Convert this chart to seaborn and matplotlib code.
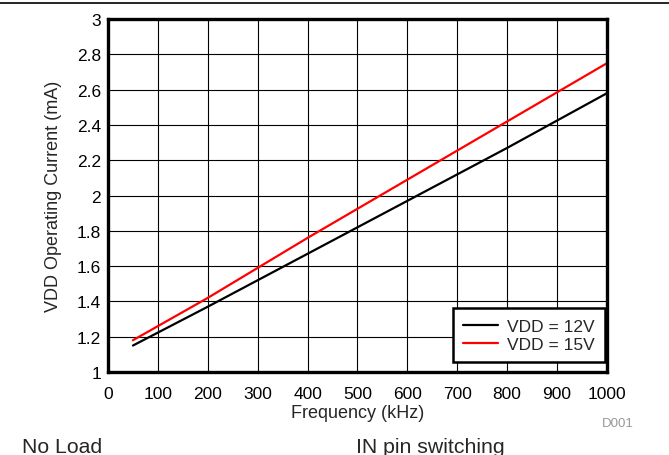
import matplotlib
matplotlib.use("Agg")
import matplotlib.pyplot as plt
import seaborn as sns
import pandas as pd

# Data
freq_khz = [50, 200, 400, 600, 800, 1000]
idd_12v = [1.15, 1.37, 1.67, 1.97, 2.27, 2.58]
idd_15v = [1.18, 1.42, 1.76, 2.09, 2.42, 2.75]
series_labels = ["VDD = 12V", "VDD = 15V"]
x_ticks = list(range(0, 1001, 100))
y_ticks = [1, 1.2, 1.4, 1.6, 1.8, 2, 2.2, 2.4, 2.6, 2.8, 3]

df = pd.concat([
    pd.DataFrame({"Frequency": freq_khz, "Current": idd_12v, "Series": series_labels[0]}),
    pd.DataFrame({"Frequency": freq_khz, "Current": idd_15v, "Series": series_labels[1]}),
])

sns.set_style("white")
plt.rcParams["font.family"] = ["Liberation Sans", "DejaVu Sans"]

fig = plt.figure(figsize=(6.69, 4.56), dpi=100)
ax = fig.add_axes([0.1614, 0.182, 0.7459, 0.774])

sns.lineplot(data=df, x="Frequency", y="Current", hue="Series",
             palette={series_labels[0]: "black", series_labels[1]: "#ff0000"},
             linewidth=1.6, ax=ax)

ax.set_xlim(0, 1000)
ax.set_ylim(1, 3)
ax.set_xticks(x_ticks)
ax.set_yticks(y_ticks)
ax.set_yticklabels([f"{v:g}" for v in y_ticks])
ax.grid(True, color="black", linewidth=0.8)
ax.set_axisbelow(True)
for s in ax.spines.values():
    s.set_visible(True)
    s.set_color("black")
    s.set_linewidth(2.4)
ax.tick_params(axis="both", length=0, labelsize=12.5, colors="black")
ax.tick_params(axis="x", pad=10)
ax.tick_params(axis="y", pad=5)
ax.set_xlabel("Frequency (kHz)", fontsize=13, labelpad=2)
ax.set_ylabel("VDD Operating Current (mA)", fontsize=13, labelpad=11)

leg = ax.legend(loc="lower right", bbox_to_anchor=(0.996, 0.028), fontsize=12.5,
                frameon=True, fancybox=False, borderaxespad=0, handlelength=2.0,
                handletextpad=0.5, borderpad=0.6, labelspacing=0.15)
leg.get_frame().set_edgecolor("black")
leg.get_frame().set_linewidth(1.8)
leg.get_frame().set_alpha(1)

# datasheet decorations
fig.add_artist(plt.Line2D([0, 1], [0.991, 0.991], color="black", linewidth=1.2))
fig.text(0.947, 0.063, "D001", fontsize=9.5, color="#999999", ha="right")
fig.text(0.033, 0.007, "No Load", fontsize=15.3, ha="left", va="baseline")
fig.text(0.532, 0.007, "IN pin switching", fontsize=15.3, ha="left", va="baseline")

fig.savefig("out.png", dpi=100)
